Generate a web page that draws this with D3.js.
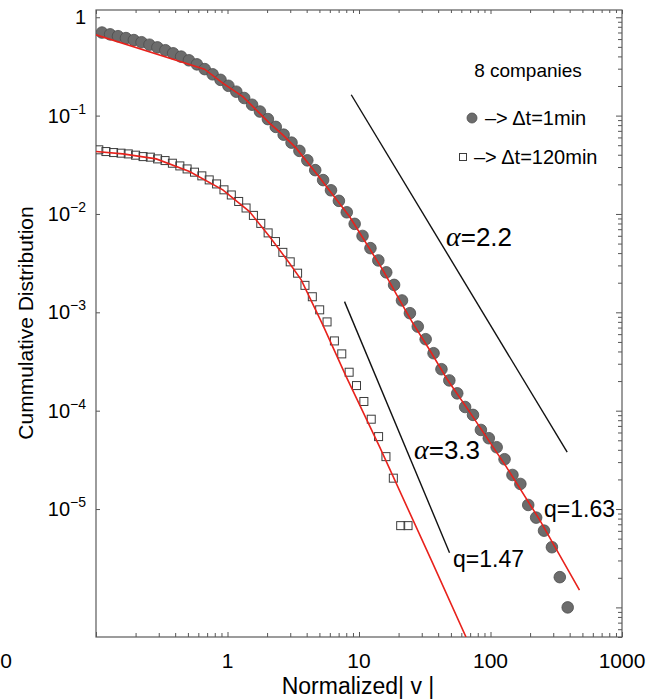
<!DOCTYPE html>
<html>
<head>
<meta charset="utf-8">
<script src="https://cdn.jsdelivr.net/npm/d3@7"></script>
<style>
  body { margin: 0; background: #fff; }
  svg { display: block; }
  text { font-family: "Liberation Sans", Arial, sans-serif; fill: #000; }
  .greek { font-family: "Liberation Serif", "Times New Roman", serif; font-style: italic; }
</style>
</head>
<body>
<svg id="chart" width="646" height="700"></svg>
<script>
// Cumulative distribution of normalized |v|, Δt = 1 min (circles)
const circleX = [0.111, 0.128, 0.147, 0.169, 0.194, 0.222, 0.255, 0.293, 0.337, 0.386,
  0.444, 0.509, 0.585, 0.671, 0.771, 0.885, 1.016, 1.167, 1.340, 1.538,
  1.766, 2.028, 2.328, 2.673, 3.069, 3.524, 4.046, 4.646, 5.334, 6.124,
  7.031, 8.073, 9.268, 10.64, 12.22, 14.03, 16.11, 18.49, 21.23, 24.38,
  27.99, 32.13, 36.90, 42.36, 48.64, 55.85, 64.12, 73.62, 84.53, 97.05,
  111.4, 127.9, 146.9, 168.7, 193.6, 222.3, 255.3, 293.1, 336.5, 386.4];
const circleY = [0.699, 0.670, 0.642, 0.614, 0.586, 0.557, 0.526, 0.494, 0.462, 0.430,
  0.398, 0.365, 0.332, 0.297, 0.263, 0.231, 0.201, 0.175, 0.151, 0.129,
  0.110, 0.0922, 0.0768, 0.0640, 0.0531, 0.0438, 0.0351, 0.0279, 0.0221, 0.0174,
  0.0136, 0.0104, 0.00793, 0.00598, 0.00449, 0.00337, 0.00255, 0.00190, 0.00132, 0.000980,
  0.000716, 0.000533, 0.000384, 0.000264, 0.000203, 0.000150, 0.000109, 0.0000906, 0.0000637, 0.0000525,
  0.0000425, 0.0000321, 0.0000222, 0.0000180, 0.0000110, 0.00000818, 0.00000603, 0.00000409, 0.00000203, 0.00000100];

// Δt = 120 min (squares)
const squareX = [0.105, 0.119, 0.136, 0.155, 0.176, 0.200, 0.228, 0.259, 0.294, 0.335,
  0.381, 0.434, 0.493, 0.561, 0.638, 0.726, 0.826, 0.940, 1.069, 1.216,
  1.384, 1.574, 1.791, 2.037, 2.317, 2.636, 2.999, 3.412, 3.882, 4.416, 5.023,
  5.715, 6.501, 7.396, 8.414, 9.572, 10.89, 12.39, 14.09, 16.03, 18.24, 20.75, 23.60];
const squareY = [0.0449, 0.0431, 0.0421, 0.0415, 0.0408, 0.0396, 0.0383, 0.0378, 0.0363, 0.0349,
  0.0328, 0.0308, 0.0287, 0.0266, 0.0244, 0.0222, 0.0202, 0.0176, 0.0156, 0.0134,
  0.0115, 0.00967, 0.00802, 0.00642, 0.00524, 0.00407, 0.00326, 0.00250, 0.00188, 0.00144, 0.00106,
  0.000799, 0.000512, 0.000378, 0.000246, 0.000180, 0.000124, 0.0000819, 0.0000545, 0.0000341, 0.0000206, 0.00000678, 0.00000678];

// q-Gaussian fits (red)
const fit1X = [0.1, 0.668, 0.921, 1.307, 1.653, 2.086, 2.634, 3.330, 4.727, 8.469,
  15.17, 20.32, 25.66, 34.37, 47.1, 73.3, 131.6, 235.9, 475];
const fit1Y = [0.662, 0.2966, 0.2138, 0.1562, 0.1144, 0.0838, 0.0637, 0.0467, 0.0260, 0.00941,
  0.00270, 0.001337, 0.000775, 0.000416, 0.000206, 0.0000870, 0.0000270, 0.0000078, 0.0000015];
const fit2X = [0.1, 0.1599, 0.287, 0.514, 0.921, 1.470, 2.086, 2.961, 3.636, 5.305, 7.991, 14.32, 35.4, 65.1];
const fit2Y = [0.0431, 0.0408, 0.0363, 0.0270, 0.01757, 0.01057, 0.00589, 0.00316, 0.002136, 0.000745,
  0.000222, 0.0000431, 0.00000304, 0.0000005];

// Power-law guide lines (black)
const guide1X = [8.73, 383];
const guide1Y = [0.163, 0.0000378];
const guide2X = [7.76, 48.8];
const guide2Y = [0.001285, 0.0000036];

// Axis tick labels
const xTickValues = [1, 10, 100, 1000];
const xTickLabels = ["1", "10", "100", "1000"];
const yTickValues = [1, 1e-1, 1e-2, 1e-3, 1e-4, 1e-5];
const yTickExponents = [null, "\u22121", "\u22122", "\u22123", "\u22124", "\u22125"];

const svg = d3.select("#chart");
const mLeft = 96, mRight = 622, mTop = 10, mBottom = 637;

const x = d3.scaleLog().domain([0.1, 1000]).range([mLeft, mRight]);
const y = d3.scaleLog().domain([5e-7, 1.185]).range([mBottom, mTop]);

svg.append("defs").append("clipPath").attr("id", "plot-clip")
  .append("rect").attr("x", mLeft).attr("y", mTop).attr("width", mRight - mLeft).attr("height", mBottom - mTop);

const tickColor = "#555";
const isMajor = v => Math.abs(Math.log10(v) - Math.round(Math.log10(v))) < 1e-9;

// Bottom axis: ticks pointing into the plot
const bottomAxis = svg.append("g").attr("transform", `translate(0,${mBottom})`);
bottomAxis.call(d3.axisBottom(x).tickValues(x.ticks()).tickSizeInner(0).tickSizeOuter(0).tickFormat(""));
bottomAxis.selectAll(".tick line").attr("y2", d => isMajor(d) ? -5 : -4);
// Top axis
const topAxis = svg.append("g").attr("transform", `translate(0,${mTop})`);
topAxis.call(d3.axisBottom(x).tickValues(x.ticks()).tickSizeInner(0).tickSizeOuter(0).tickFormat(""));
topAxis.selectAll(".tick line").attr("y2", d => isMajor(d) ? 4 : 3);
// Left axis: major ticks only
const leftAxis = svg.append("g").attr("transform", `translate(${mLeft},0)`);
leftAxis.call(d3.axisLeft(y).tickValues(yTickValues).tickSizeInner(-4).tickSizeOuter(0).tickFormat(""));
// Right axis: full log ticks
const rightAxis = svg.append("g").attr("transform", `translate(${mRight},0)`);
rightAxis.call(d3.axisRight(y).tickValues(y.ticks()).tickSizeInner(0).tickSizeOuter(0).tickFormat(""));
rightAxis.selectAll(".tick line").attr("x2", d => isMajor(d) ? -6 : -4);

svg.selectAll(".domain").remove();
svg.selectAll(".tick line").attr("stroke", tickColor).attr("stroke-width", 1);

// Frame
svg.append("rect").attr("x", mLeft).attr("y", mTop).attr("width", mRight - mLeft).attr("height", mBottom - mTop)
  .attr("fill", "none").attr("stroke", "#5a5a5a").attr("stroke-width", 1.2);

// X tick labels
svg.append("g").selectAll("text").data(xTickValues).join("text")
  .attr("x", d => x(d)).attr("y", 668)
  .attr("text-anchor", "middle").attr("font-size", 21)
  .text((d, i) => xTickLabels[i]);
svg.append("text").attr("x", 6).attr("y", 668).attr("text-anchor", "middle").attr("font-size", 21).text("0");

// Y tick labels with superscript exponents
const yl = svg.append("g").selectAll("text").data(yTickValues).join("text")
  .attr("x", 86).attr("y", d => y(d) + 7)
  .attr("text-anchor", "end").attr("font-size", 20);
yl.each(function (d, i) {
  const t = d3.select(this);
  if (yTickExponents[i] === null) { t.text("1"); return; }
  t.append("tspan").text("10");
  t.append("tspan").attr("font-size", 14).attr("dy", -9).text(yTickExponents[i]);
});

// Axis titles
svg.append("text").attr("x", 358).attr("y", 694).attr("text-anchor", "middle")
  .attr("font-size", 23).text("Normalized| v |");
svg.append("text").attr("transform", "translate(33,323) rotate(-90)").attr("text-anchor", "middle")
  .attr("font-size", 21).text("Cummulative Distribution");

const plot = svg.append("g").attr("clip-path", "url(#plot-clip)");

// Δt = 1 min circles
plot.append("g").selectAll("circle").data(d3.range(circleX.length)).join("circle")
  .attr("cx", i => x(circleX[i])).attr("cy", i => y(circleY[i])).attr("r", 5.8)
  .attr("fill", "#6c6c6c").attr("stroke", "#4d4d4d").attr("stroke-width", 0.8);

// Δt = 120 min squares
const sq = 8;
plot.append("g").selectAll("rect").data(d3.range(squareX.length)).join("rect")
  .attr("x", i => x(squareX[i]) - sq / 2).attr("y", i => y(squareY[i]) - sq / 2)
  .attr("width", sq).attr("height", sq)
  .attr("fill", "none").attr("stroke", "#3c3c3c").attr("stroke-width", 1);

const line = d3.line().x(d => x(d[0])).y(d => y(d[1]));
const pairs = (xs, ys) => xs.map((v, i) => [v, ys[i]]);

// Fit curves
[[fit1X, fit1Y], [fit2X, fit2Y]].forEach(([xs, ys]) => {
  plot.append("path").attr("d", line(pairs(xs, ys)))
    .attr("fill", "none").attr("stroke", "#e8221c").attr("stroke-width", 1.6);
});

// Guide lines
[[guide1X, guide1Y], [guide2X, guide2Y]].forEach(([xs, ys]) => {
  plot.append("path").attr("d", line(pairs(xs, ys)))
    .attr("fill", "none").attr("stroke", "#111").attr("stroke-width", 1.4);
});

// Annotations
function alphaLabel(px, py, value) {
  const t = svg.append("text").attr("x", px).attr("y", py).attr("font-size", 26);
  t.append("tspan").attr("class", "greek").attr("font-size", 28).text("\u03b1");
  t.append("tspan").text("=" + value);
}
alphaLabel(446, 246, "2.2");
alphaLabel(414, 459, "3.3");
svg.append("text").attr("x", 544).attr("y", 517).attr("font-size", 23).text("q=1.63");
svg.append("text").attr("x", 453).attr("y", 567).attr("font-size", 23).text("q=1.47");

// Legend
svg.append("text").attr("x", 528).attr("y", 77).attr("text-anchor", "middle").attr("font-size", 19).text("8 companies");
svg.append("circle").attr("cx", 472).attr("cy", 118).attr("r", 5)
  .attr("fill", "#6c6c6c").attr("stroke", "#4d4d4d").attr("stroke-width", 0.8);
svg.append("text").attr("x", 485).attr("y", 125).attr("font-size", 20).text("\u2013> \u0394t=1min");
svg.append("rect").attr("x", 459.5).attr("y", 153.5).attr("width", 7).attr("height", 7)
  .attr("fill", "none").attr("stroke", "#3c3c3c").attr("stroke-width", 1);
svg.append("text").attr("x", 474).attr("y", 164).attr("font-size", 20).text("\u2013> \u0394t=120min");
</script>
</body>
</html>
